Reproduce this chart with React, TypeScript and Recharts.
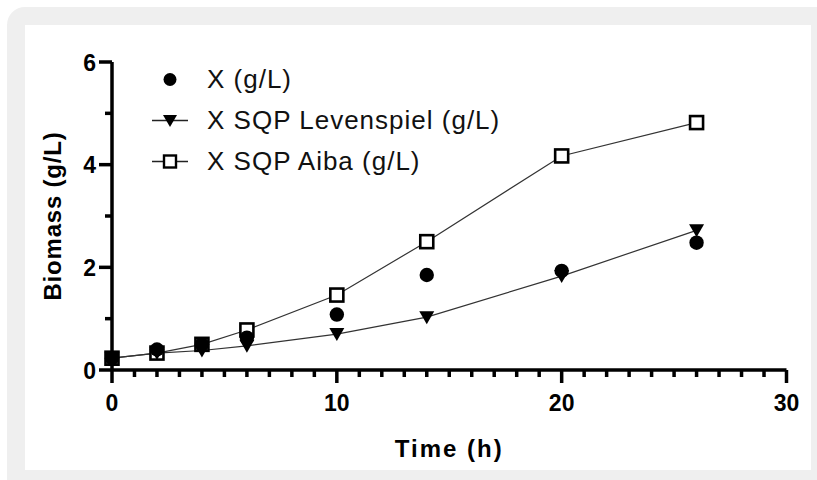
import React from 'react';
import { LineChart, Line, XAxis, YAxis, Legend, Label } from 'recharts';

const times = [0, 2, 4, 6, 10, 14, 20, 26];
const xObserved = [0.23, 0.4, 0.5, 0.63, 1.08, 1.85, 1.93, 2.48];
const xLevenspiel = [0.23, 0.33, 0.38, 0.47, 0.7, 1.03, 1.83, 2.72];
const xAiba = [0.23, 0.33, 0.5, 0.78, 1.46, 2.5, 4.17, 4.82];

const seriesNames = ['X (g/L)', 'X SQP Levenspiel (g/L)', 'X SQP Aiba (g/L)'];
const xTicks = Array.from({ length: 31 }, (_, i) => i);
const yTicks = [0, 1, 2, 3, 4, 5, 6];
const xMajor = [0, 10, 20, 30];
const yMajor = [0, 2, 4, 6];

const data = times.map((t, i) => ({
  t,
  obs: xObserved[i],
  lev: xLevenspiel[i],
  aiba: xAiba[i],
}));

const FONT = '"Liberation Sans", Arial, Helvetica, sans-serif';

const XTick = (props: any) => {
  const { x, y, payload } = props;
  const v = payload.value;
  const major = xMajor.includes(v);
  return (
    <g>
      <line x1={x} x2={x} y1={y} y2={y + (major ? 13 : 7)} stroke="#000" strokeWidth={3.5} />
      {major && (
        <text x={x} y={y + 41} textAnchor="middle" fontFamily={FONT} fontWeight="bold" fontSize={23} fill="#000">
          {v}
        </text>
      )}
    </g>
  );
};

const YTick = (props: any) => {
  const { x, y, payload } = props;
  const v = payload.value;
  const major = yMajor.includes(v);
  return (
    <g>
      <line x1={x} x2={x - (major ? 13 : 7)} y1={y} y2={y} stroke="#000" strokeWidth={3.5} />
      {major && (
        <text x={x - 16} y={y + 8.5} textAnchor="end" fontFamily={FONT} fontWeight="bold" fontSize={23} fill="#000">
          {v}
        </text>
      )}
    </g>
  );
};

const circleDot = (props: any) => {
  const { cx, cy, index } = props;
  return <circle key={`c${index}`} cx={cx} cy={cy} r={7.2} fill="#000" />;
};
const triDot = (props: any) => {
  const { cx, cy, index } = props;
  return <path key={`t${index}`} d={`M${cx - 7.5},${cy - 6}L${cx + 7.5},${cy - 6}L${cx},${cy + 7}Z`} fill="#000" />;
};
const squareDot = (props: any) => {
  const { cx, cy, index } = props;
  return <rect key={`s${index}`} x={cx - 6.5} y={cy - 6.5} width={13} height={13} fill="#fff" stroke="#000" strokeWidth={2.6} />;
};

const LegendSymbol = ({ kind }: { kind: number }) => (
  <svg width={62} height={41} style={{ display: 'block' }}>
    {kind !== 0 && <line x1={7} x2={43} y1={20.5} y2={20.5} stroke="#222" strokeWidth={1.3} />}
    {kind === 0 && <circle cx={25} cy={20.5} r={6.5} fill="#000" />}
    {kind === 1 && <path d={`M${25 - 7},${20.5 - 5.5}L${25 + 7},${20.5 - 5.5}L25,${20.5 + 6.5}Z`} fill="#000" />}
    {kind === 2 && <rect x={19} y={14.5} width={12} height={12} fill="#fff" stroke="#000" strokeWidth={2.4} />}
  </svg>
);

const renderLegend = () => (
  <div style={{ fontFamily: FONT, fontSize: 26, letterSpacing: 1, color: '#111' }}>
    {seriesNames.map((name, i) => (
      <div key={name} style={{ display: 'flex', alignItems: 'center', height: 41 }}>
        <LegendSymbol kind={i} />
        <span style={{ whiteSpace: 'nowrap' }}>{name}</span>
      </div>
    ))}
  </div>
);

const YLabel = (props: any) => {
  const { viewBox } = props;
  const cx = 52;
  const cy = viewBox.y + viewBox.height / 2;
  return (
    <text
      x={cx}
      y={cy}
      transform={`rotate(-90 ${cx} ${cy})`}
      textAnchor="middle"
      dominantBaseline="central"
      fontFamily={FONT}
      fontWeight="bold"
      fontSize={24}
      letterSpacing={0.8}
      fill="#000"
    >
      Biomass (g/L)
    </text>
  );
};

const XLabel = (props: any) => {
  const { viewBox } = props;
  const cx = viewBox.x + viewBox.width / 2;
  return (
    <text x={cx} y={456.5} textAnchor="middle" fontFamily={FONT} fontWeight="bold" fontSize={24} letterSpacing={2} fill="#000">
      Time (h)
    </text>
  );
};

export default function App() {
  return (
    <div style={{ position: 'absolute', left: 0, top: 0, width: 817, height: 480, background: '#fff', overflow: 'hidden' }}>
      <div style={{ position: 'absolute', left: 7, top: 7, width: 840, height: 500, borderRadius: 18, background: '#efefef' }} />
      <div style={{ position: 'absolute', left: 25, top: 25, width: 786, height: 445, background: '#fff' }} />
      <div style={{ position: 'absolute', left: 0, top: 0 }}>
        <LineChart width={817} height={480} data={data} margin={{ top: 62, right: 30.5, bottom: 0, left: 0 }}>
          <XAxis
            dataKey="t"
            type="number"
            domain={[0, 30]}
            ticks={xTicks}
            interval={0}
            height={110}
            tickSize={0}
            tickMargin={0}
            tickLine={false}
            tick={<XTick />}
            axisLine={{ stroke: '#000', strokeWidth: 3.5 }}
          >
            <Label content={<XLabel />} />
          </XAxis>
          <YAxis
            type="number"
            domain={[0, 6]}
            ticks={yTicks}
            interval={0}
            width={112}
            tickSize={0}
            tickMargin={0}
            tickLine={false}
            tick={<YTick />}
            axisLine={{ stroke: '#000', strokeWidth: 3.5 }}
          >
            <Label content={<YLabel />} />
          </YAxis>
          <Legend
            layout="vertical"
            align="center"
            verticalAlign="middle"
            content={renderLegend}
            wrapperStyle={{ left: 145, top: 59, width: 440, height: 130 }}
          />
          <Line dataKey="aiba" name={seriesNames[2]} stroke="#333" strokeWidth={1.2} dot={squareDot} activeDot={false} isAnimationActive={false} />
          <Line dataKey="lev" name={seriesNames[1]} stroke="#333" strokeWidth={1.2} dot={triDot} activeDot={false} isAnimationActive={false} />
          <Line dataKey="obs" name={seriesNames[0]} stroke="none" dot={circleDot} activeDot={false} isAnimationActive={false} />
        </LineChart>
      </div>
    </div>
  );
}
